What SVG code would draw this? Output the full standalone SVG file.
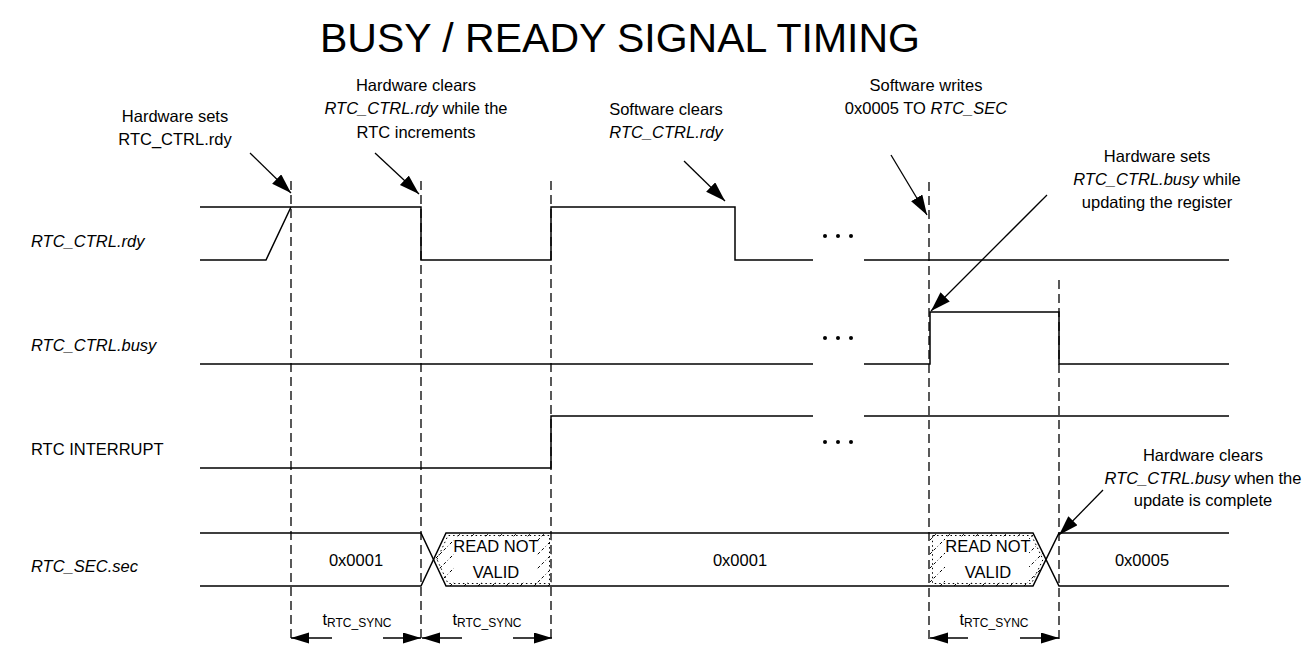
<svg xmlns="http://www.w3.org/2000/svg" width="1312" height="645" viewBox="0 0 1312 645">
<style>
text{font-family:"Liberation Sans",Arial,sans-serif;font-size:16.5px;fill:#000}
.it{font-style:italic}
.c{text-anchor:middle}
.sig{fill:none;stroke:#000;stroke-width:1.5}
.dash{fill:none;stroke:#000;stroke-width:1.3;stroke-dasharray:9,5}
.arr{fill:none;stroke:#000;stroke-width:1.3;marker-end:url(#ah)}
.dim{fill:none;stroke:#000;stroke-width:1.3;marker-end:url(#dh)}
.sub{font-size:12px}
</style>
<defs>
<marker id="ah" markerUnits="userSpaceOnUse" markerWidth="22" markerHeight="15" refX="20" refY="6.5" orient="auto">
<path d="M0,0 L20,6.5 L0,13 z" fill="#000"/>
</marker>
<marker id="dh" markerUnits="userSpaceOnUse" markerWidth="20" markerHeight="12" refX="18" refY="5.5" orient="auto">
<path d="M0,0 L18,5.5 L0,11 z" fill="#000"/>
</marker>
<pattern id="hatch" patternUnits="userSpaceOnUse" width="14" height="14">
<path d="M-2,16 L16,-2" stroke="#000" stroke-width="1" stroke-dasharray="3,2.5"/>
</pattern>
</defs>
<rect width="1312" height="645" fill="#fff"/>
<text x="620" y="52" class="c" style="font-size:41px">BUSY / READY SIGNAL TIMING</text>

<g id="guides">
<line class="dash" x1="291" y1="181" x2="291" y2="641"/>
<line class="dash" x1="421" y1="181" x2="421" y2="641"/>
<line class="dash" x1="551" y1="181" x2="551" y2="641"/>
<line class="dash" x1="929" y1="182" x2="929" y2="641"/>
<line class="dash" x1="1059" y1="280" x2="1059" y2="641"/>
</g>

<g id="rdy">
<text x="31" y="247" class="it">RTC_CTRL.rdy</text>
<polyline class="sig" points="200,207 421,207 421,260 551,260 551,207 735,207 735,260 813,260"/>
<polyline class="sig" points="200,260 266,260 291,207"/>
<line class="sig" x1="864" y1="260" x2="1229" y2="260"/>
<circle cx="825" cy="236" r="2"/><circle cx="838" cy="236" r="2"/><circle cx="851" cy="236" r="2"/>
</g>

<g id="busy">
<text x="31" y="351" class="it">RTC_CTRL.busy</text>
<line class="sig" x1="200" y1="364" x2="813" y2="364"/>
<polyline class="sig" points="864,364 930,364 930,312 1059,312 1059,364 1229,364"/>
<circle cx="825" cy="338" r="2"/><circle cx="838" cy="338" r="2"/><circle cx="851" cy="338" r="2"/>
</g>

<g id="interrupt">
<text x="31" y="455">RTC INTERRUPT</text>
<polyline class="sig" points="200,468 551,468 551,416 813,416"/>
<line class="sig" x1="864" y1="416" x2="1229" y2="416"/>
<circle cx="825" cy="442" r="2"/><circle cx="838" cy="442" r="2"/><circle cx="851" cy="442" r="2"/>
</g>

<g id="sec">
<text x="31" y="572" class="it">RTC_SEC.sec</text>
<polygon points="434,559.5 446,533 552,533 552,586 446,586" fill="url(#hatch)"/>
<polygon points="437,559.5 448,535.5 549.5,535.5 549.5,583.5 448,583.5" fill="none" stroke="#000" stroke-width="1" stroke-dasharray="1.5,3"/>
<rect x="454" y="537" width="82" height="45" fill="#fff"/>
<polygon points="930,533 1033,533 1046,559.5 1033,586 930,586" fill="url(#hatch)"/>
<polygon points="932.5,535.5 1031.5,535.5 1043,559.5 1031.5,583.5 932.5,583.5" fill="none" stroke="#000" stroke-width="1" stroke-dasharray="1.5,3"/>
<rect x="945" y="537" width="84" height="45" fill="#fff"/>
<polyline class="sig" points="200,533 421,533 446,586 1033,586 1059,533 1229,533"/>
<polyline class="sig" points="200,586 421,586 446,533 1033,533 1059,586 1229,586"/>
<text x="356" y="566" class="c">0x0001</text>
<text x="496" y="552" class="c">READ NOT</text>
<text x="496" y="578" class="c">VALID</text>
<text x="740" y="566" class="c">0x0001</text>
<text x="988" y="552" class="c">READ NOT</text>
<text x="988" y="578" class="c">VALID</text>
<text x="1142" y="566" class="c">0x0005</text>
</g>

<g id="annotations">
<text x="175" y="122" class="c">Hardware sets</text>
<text x="175" y="145" class="c">RTC_CTRL.rdy</text>
<text x="416" y="91" class="c">Hardware clears</text>
<text x="416" y="114" class="c"><tspan class="it">RTC_CTRL.rdy</tspan> while the</text>
<text x="416" y="138" class="c">RTC increments</text>
<text x="666" y="115" class="c">Software clears</text>
<text x="666" y="138" class="c it">RTC_CTRL.rdy</text>
<text x="926" y="91" class="c">Software writes</text>
<text x="926" y="114" class="c">0x0005 TO <tspan class="it">RTC_SEC</tspan></text>
<text x="1157" y="162" class="c">Hardware sets</text>
<text x="1157" y="185" class="c"><tspan class="it">RTC_CTRL.busy</tspan> while</text>
<text x="1157" y="208" class="c">updating the register</text>
<text x="1203" y="461" class="c">Hardware clears</text>
<text x="1203" y="484" class="c"><tspan class="it">RTC_CTRL.busy</tspan> when the</text>
<text x="1203" y="506" class="c">update is complete</text>
</g>

<g id="connectors">
<line class="arr" x1="250" y1="153" x2="291" y2="193"/>
<line class="arr" x1="375" y1="153" x2="419" y2="194"/>
<line class="arr" x1="684" y1="161" x2="725" y2="201"/>
<line class="arr" x1="891" y1="155" x2="927" y2="215"/>
<line class="arr" x1="1047" y1="195" x2="931" y2="311"/>
<line class="arr" x1="1103" y1="490" x2="1059" y2="535"/>
<line class="dim" x1="332" y1="638" x2="291" y2="638"/>
<line class="dim" x1="383" y1="638" x2="421" y2="638"/>
<line class="dim" x1="462" y1="638" x2="422" y2="638"/>
<line class="dim" x1="513" y1="638" x2="552" y2="638"/>
<line class="dim" x1="968" y1="638" x2="930" y2="638"/>
<line class="dim" x1="1020" y1="638" x2="1059" y2="638"/>
</g>

<g id="sync-labels">
<text x="357" y="625" class="c">t<tspan class="sub" dy="2">RTC_SYNC</tspan></text>
<text x="487" y="625" class="c">t<tspan class="sub" dy="2">RTC_SYNC</tspan></text>
<text x="994" y="625" class="c">t<tspan class="sub" dy="2">RTC_SYNC</tspan></text>
</g>
</svg>
